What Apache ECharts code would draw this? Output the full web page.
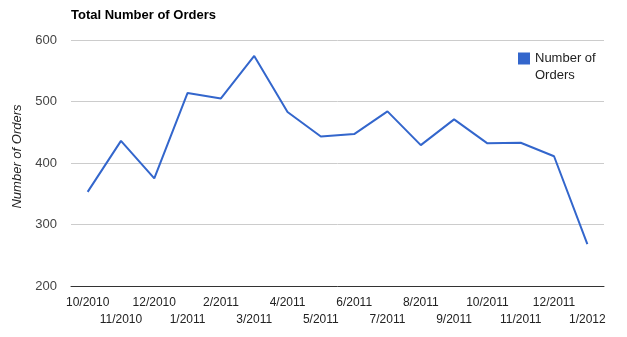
<!DOCTYPE html>
<html><head><meta charset="utf-8">
<script src="https://cdn.jsdelivr.net/npm/echarts@6/dist/echarts.min.js"></script>
<style>html,body{margin:0;padding:0;background:#fff}#c{width:627px;height:337px}</style>
</head><body><div id="c"></div>
<script>
var categories = ['10/2010','11/2010','12/2010','1/2011','2/2011','3/2011','4/2011','5/2011','6/2011','7/2011','8/2011','9/2011','10/2011','11/2011','12/2011','1/2012'];
var orders = [353, 436, 375, 514, 505, 574, 483, 443, 447, 484, 429, 471, 432, 433, 411, 268];
var seriesName = 'Number of Orders';
var legendLines = ['Number of', 'Orders'];
var titleText = 'Total Number of Orders';
var yAxisName = 'Number of Orders';

var FONT = 'Liberation Sans, Arial, sans-serif';
var chart = echarts.init(document.getElementById('c'));
chart.setOption({
  animation: false,
  textStyle: {fontFamily: FONT},
  title: {text: titleText, left: 66, top: 4, textStyle: {fontSize: 13, fontWeight: 'bold', color: '#000', fontFamily: FONT}},
  legend: {
    left: 518, top: 33, orient: 'vertical', padding: 0,
    icon: 'rect', itemWidth: 12, itemHeight: 12, itemGap: 6,
    formatter: function(){ return ' \n' + legendLines.join('\n'); },
    textStyle: {fontSize: 13, color: '#222', lineHeight: 17, fontFamily: FONT},
    data: [seriesName]
  },
  grid: {left: 71, right: 23, top: 40, bottom: 51, containLabel: false},
  xAxis: {
    type: 'category', data: categories, boundaryGap: true,
    axisLine: {lineStyle: {color: '#333', width: 1}},
    axisTick: {show: false},
    axisLabel: {interval: 0, fontSize: 12, color: '#222', margin: 8, lineHeight: 17,
      formatter: function(v, i){ return i % 2 === 1 ? '\n' + v : v; }}
  },
  yAxis: {
    type: 'value', min: 200, max: 600, interval: 100,
    name: yAxisName, nameLocation: 'middle', nameGap: 47, nameRotate: 90,
    nameTextStyle: {fontStyle: 'italic', fontSize: 13, color: '#222', padding: [0, 0, 0, 13]},
    axisLine: {show: false}, axisTick: {show: false},
    axisLabel: {fontSize: 13, color: '#444', margin: 14},
    splitLine: {lineStyle: {color: '#ccc', width: 1}}
  },
  series: [{
    name: seriesName, type: 'line', data: orders,
    symbol: 'none', lineStyle: {color: '#3366cc', width: 2}, itemStyle: {color: '#3366cc'}
  }]
});
</script></body></html>
